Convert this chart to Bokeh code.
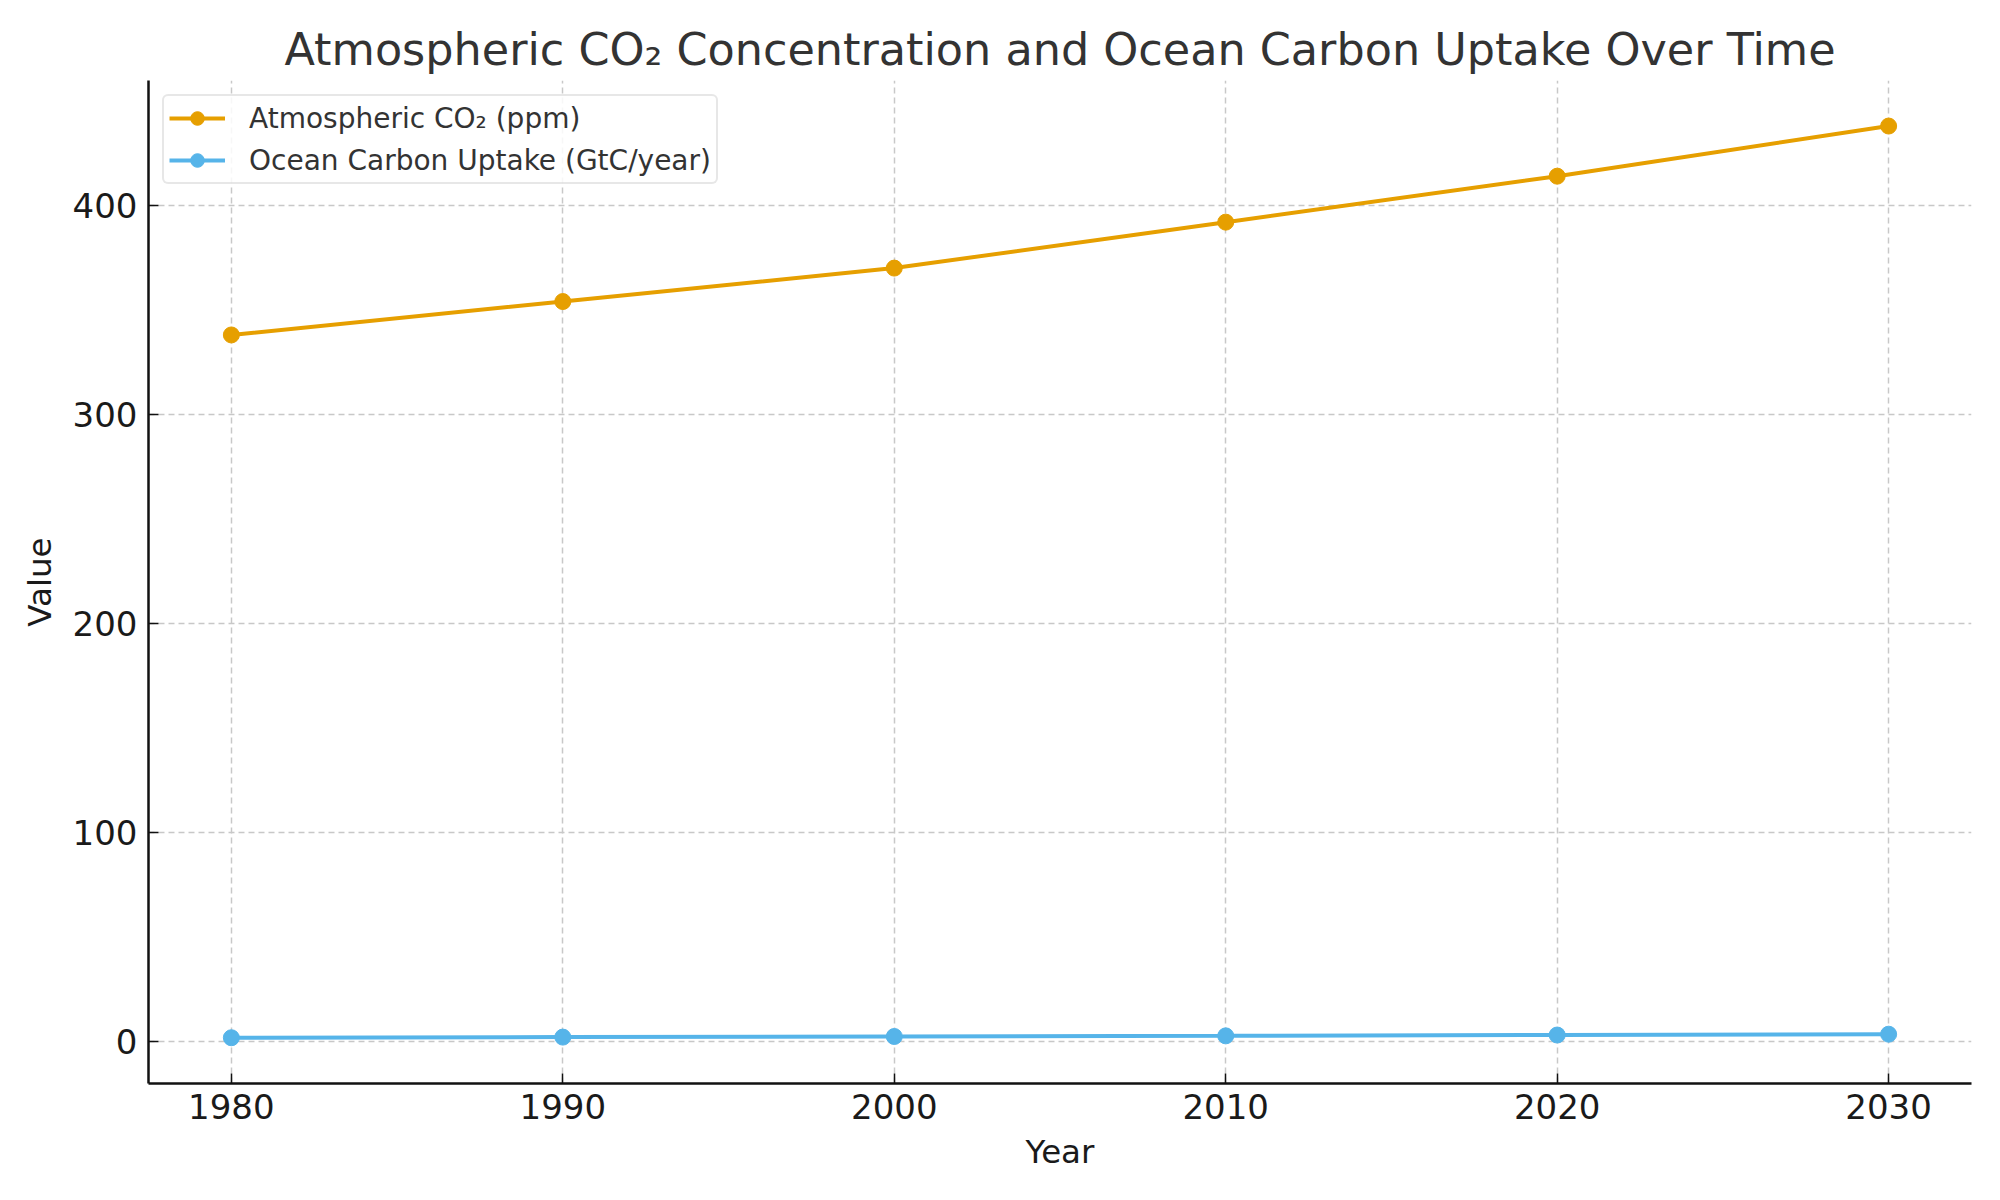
from bokeh.plotting import figure
from bokeh.models import Range1d, FixedTicker, Legend, LegendItem
from bokeh.embed import file_html
from bokeh.resources import INLINE

years = [1980, 1990, 2000, 2010, 2020, 2030]
co2_ppm = [338, 354, 370, 392, 414, 438]
ocean_uptake = [1.6, 1.9, 2.2, 2.5, 2.9, 3.3]
x_ticks = [1980, 1990, 2000, 2010, 2020, 2030]
y_ticks = [0, 100, 200, 300, 400]

FONT = "DejaVu Sans"
ORANGE = "#E69F00"
BLUE = "#56B4E9"

p = figure(width=2000, height=1200, output_backend="svg", toolbar_location=None,
           x_range=Range1d(1977.5, 2032.5), y_range=Range1d(-20.3, 459.8),
           min_border_left=148, min_border_right=29, min_border_top=80, min_border_bottom=117)

p.title.text = "Atmospheric CO\u2082 Concentration and Ocean Carbon Uptake Over Time"
p.title.text_font = FONT
p.title.text_font_size = "44.5px"
p.title.text_font_style = "normal"
p.title.text_color = "#333333"
p.title.align = "center"
p.title.standoff = 12

p.outline_line_color = None
p.background_fill_color = "white"
p.border_fill_color = "white"

r1 = p.line(years, co2_ppm, line_color=ORANGE, line_width=4)
s1 = p.scatter(years, co2_ppm, size=16, fill_color=ORANGE, line_color=ORANGE)
r2 = p.line(years, ocean_uptake, line_color=BLUE, line_width=4)
s2 = p.scatter(years, ocean_uptake, size=16, fill_color=BLUE, line_color=BLUE)

for ax in (p.xaxis[0], p.yaxis[0]):
    ax.axis_line_color = "#111111"
    ax.axis_line_width = 2.5
    ax.major_tick_line_color = "#111111"
    ax.major_tick_line_width = 1.5
    ax.major_tick_in = 10
    ax.major_tick_out = 0
    ax.minor_tick_line_color = None
    ax.major_label_text_font = FONT
    ax.major_label_text_font_size = "34px"
    ax.major_label_text_color = "#1a1a1a"
    ax.axis_label_text_font = FONT
    ax.axis_label_text_font_size = "32.5px"
    ax.axis_label_text_font_style = "normal"
    ax.axis_label_text_color = "#1a1a1a"

p.xaxis[0].ticker = FixedTicker(ticks=x_ticks)
p.yaxis[0].ticker = FixedTicker(ticks=y_ticks)
p.xaxis[0].axis_label = "Year"
p.yaxis[0].axis_label = "Value"
p.xaxis[0].major_label_standoff = 10
p.yaxis[0].major_label_standoff = 11
p.xaxis[0].axis_label_standoff = 11
p.yaxis[0].axis_label_standoff = 11

for g in (p.xgrid[0], p.ygrid[0]):
    g.grid_line_color = "#c8c8c8"
    g.grid_line_width = 1.5
    g.grid_line_dash = "6 4"

legend = Legend(items=[
    LegendItem(label="Atmospheric CO\u2082 (ppm)", renderers=[r1, s1]),
    LegendItem(label="Ocean Carbon Uptake (GtC/year)", renderers=[r2, s2]),
], location="top_left")
legend.margin = 14
legend.padding = 5
legend.spacing = 8
legend.glyph_width = 56
legend.glyph_height = 34
legend.label_height = 34
legend.label_standoff = 24
legend.label_text_font = FONT
legend.label_text_font_size = "28px"
legend.label_text_color = "#333333"
legend.border_line_color = "#d0d0d0"
legend.border_line_width = 2
legend.border_radius = 6
legend.background_fill_alpha = 0.85
p.add_layout(legend, "center")

open("out.html", "w").write(file_html(p, INLINE))
